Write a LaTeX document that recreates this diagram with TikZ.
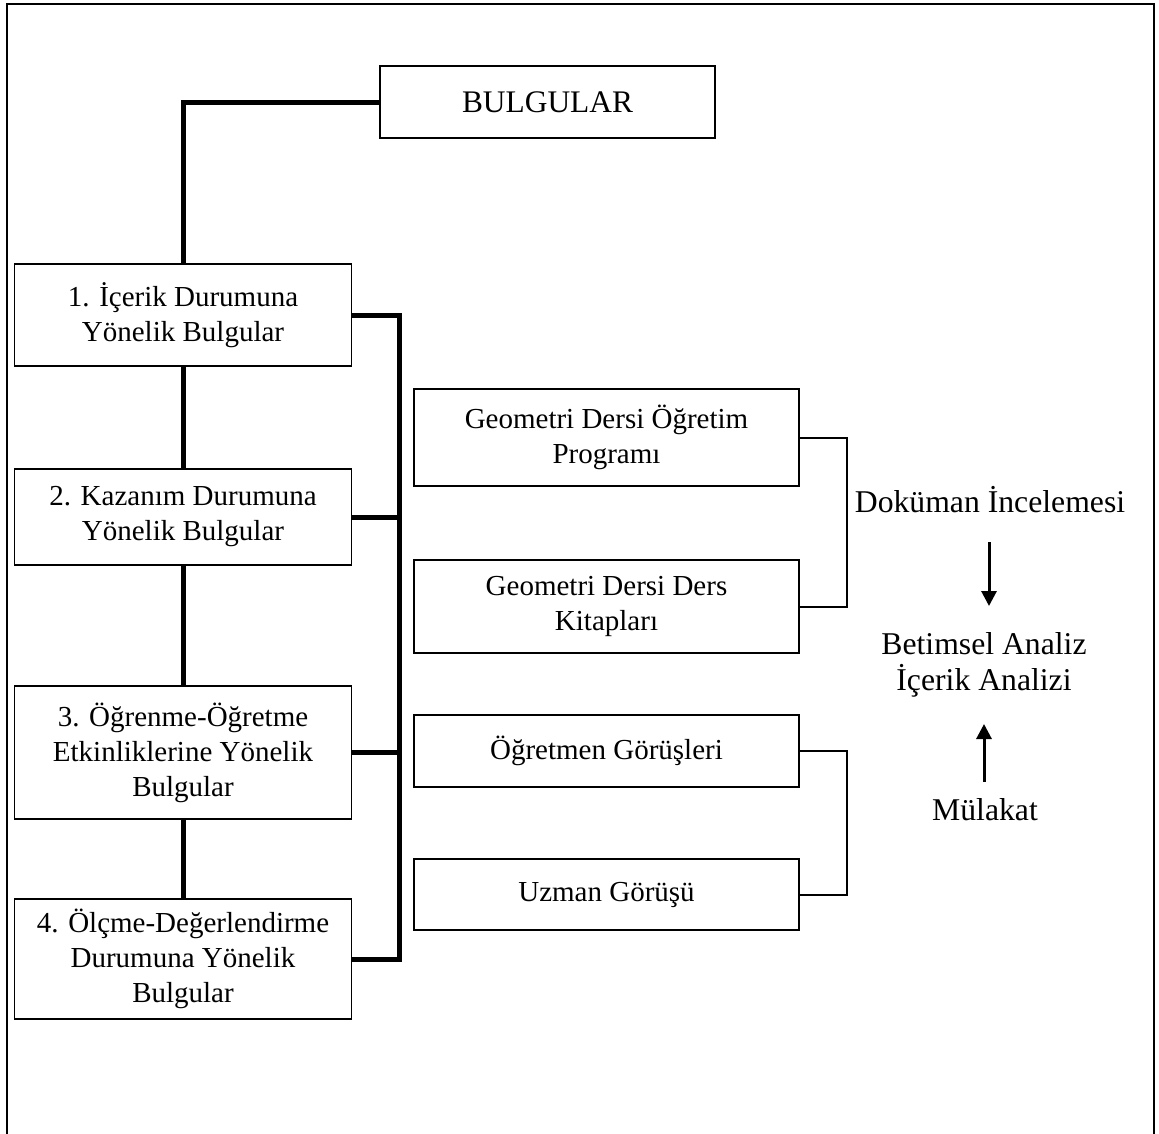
\documentclass[tikz,border=0pt]{standalone}
\usepackage{fontspec}
\setmainfont{Liberation Serif}
\usetikzlibrary{arrows.meta}
\tikzset{
  boxL/.style={draw, line width=1.6pt, rectangle, minimum width=337pt, align=center, inner sep=0pt, font=\fontsize{29}{35}\selectfont},
  boxR/.style={draw, line width=1.6pt, rectangle, minimum width=385pt, align=center, inner sep=0pt, font=\fontsize{29}{35}\selectfont},
  lbl/.style={align=center, inner sep=0pt, font=\fontsize{31.7}{36}\selectfont},
  thickc/.style={line width=5pt, line join=miter},
  thinc/.style={line width=2pt},
  arr/.style={line width=3pt, -{Triangle[width=15pt,length=15pt]}}
}
\begin{document}
\begin{tikzpicture}[x=1pt,y=-1pt]
\useasboundingbox (0,0) rectangle (1159,1133);
% outer frame (open at the bottom edge of the picture)
\draw[line width=2pt] (7,1140) -- (7,4) -- (1154,4) -- (1154,1140);

% left column
\node[boxL, minimum width=335pt, minimum height=72pt, font=\fontsize{31.4}{36}\selectfont] (top) at (547.5,102) {BULGULAR};
\node[boxL, minimum height=102pt] (b1) at (183,315) {1. İçerik Durumuna\\Yönelik Bulgular};
\node[boxL, minimum height=96pt] (b2) at (183,517) {2. Kazanım Durumuna\\Yönelik Bulgular};
\node[boxL, minimum height=133pt] (b3) at (183,752.5) {3. Öğrenme-Öğretme\\Etkinliklerine Yönelik\\Bulgular};
\node[boxL, minimum height=120pt] (b4) at (183,959) {4. Ölçme-Değerlendirme\\Durumuna Yönelik\\Bulgular};

% right column
\node[boxR, minimum height=97pt] (ra) at (606.5,437.5) {Geometri Dersi Öğretim\\Programı};
\node[boxR, minimum height=93pt] (rb) at (606.5,606.5) {Geometri Dersi Ders\\Kitapları};
\node[boxR, minimum height=72pt] (rc) at (606.5,751) {Öğretmen Görüşleri};
\node[boxR, minimum height=71pt] (rd) at (606.5,894.5) {Uzman Görüşü};

% labels
\node[lbl] (dok) at (990,500) {Doküman İncelemesi};
\node[lbl] (bet) at (984,665) {Betimsel Analiz\\İçerik Analizi};
\node[lbl] (mul) at (985,810) {Mülakat};

% connectors
\draw[thickc] (top.west) -| (b1.north);
\draw[thickc] (b1.south) -- (b2.north);
\draw[thickc] (b2.south) -- (b3.north);
\draw[thickc] (b3.south) -- (b4.north);

\coordinate (bt) at (399,315);
\coordinate (bb) at (399,959);
\draw[thickc] (b1.east) -- (bt) -- (bb) -- (b4.east);
\draw[thickc] (b2.east) -- (b2.east -| bt);
\draw[thickc] (b3.east) -- (b3.east -| bt);

\coordinate (brx) at (847,0);
\draw[thinc] (ra.east) -- (ra.east -| brx) -- (rb.east -| brx) -- (rb.east);
\draw[thinc] (rc.east) -- (rc.east -| brx) -- (rd.east -| brx) -- (rd.east);

\coordinate (a1s) at (989,542);
\coordinate (a1e) at (989,606);
\coordinate (a2s) at (984,782);
\coordinate (a2e) at (984,724);
\draw[arr] (a1s) -- (a1e);
\draw[arr] (a2s) -- (a2e);
\end{tikzpicture}
\end{document}
